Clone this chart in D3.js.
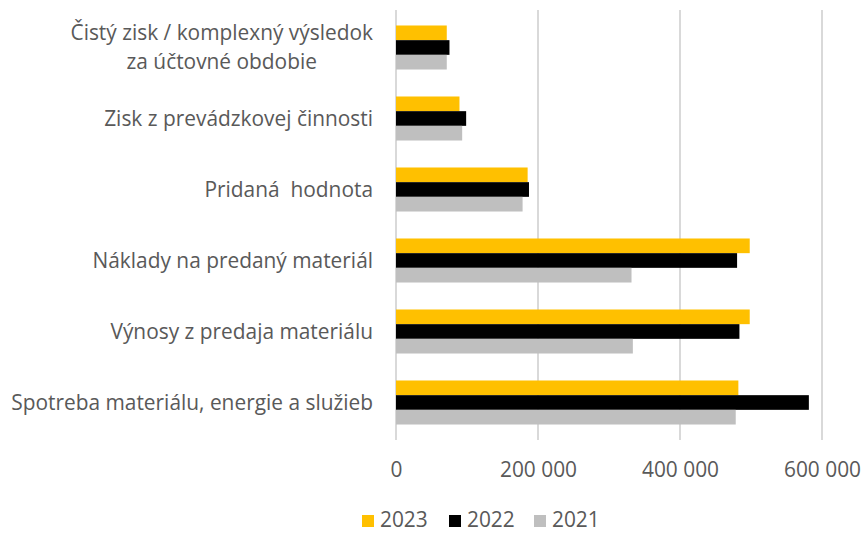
<!DOCTYPE html>
<html>
<head>
<meta charset="utf-8">
<script src="https://cdn.jsdelivr.net/npm/d3@7"></script>
<style>
  body { margin: 0; background: #fff; }
  text { font-family: "Open Sans", sans-serif; fill: #595959; white-space: pre; }
</style>
</head>
<body>
<div id="chart"></div>
<script>
const categories = [
  ["Čistý zisk / komplexný výsledok", "za účtovné obdobie"],
  ["Zisk z prevádzkovej činnosti"],
  ["Pridaná  hodnota"],
  ["Náklady na predaný materiál"],
  ["Výnosy z predaja materiálu"],
  ["Spotreba materiálu, energie a služieb"]
];
const series = ["2023", "2022", "2021"];
const values2023 = [71500, 89400, 185400, 498200, 498200, 482200];
const values2022 = [75300, 98800, 187300, 480400, 483700, 581500];
const values2021 = [71500, 93200, 178300, 331700, 333600, 478500];
const xTicks = [0, 200000, 400000, 600000];
const colors = ["#FFC000", "#000000", "#BFBFBF"];

const width = 863, height = 533;
const plotLeft = 396, plotRight = 822, plotTop = 12, plotBottom = 438;
const labelRight = 373;

const svg = d3.select("#chart").append("svg")
  .attr("width", width).attr("height", height);

// fit font size so the longest label spans the same width as in the original
const probe = svg.append("text").attr("font-size", 18).text(categories[5][0]);
const fs = 18 * 362 / probe.node().getComputedTextLength();
probe.remove();

const catKeys = categories.map((c, i) => i);
const x = d3.scaleLinear().domain([0, 600000]).range([plotLeft, plotRight]);
const y = d3.scaleBand().domain(catKeys).range([plotTop, plotBottom])
  .paddingInner(0.38).paddingOuter(0.19);
const ySub = d3.scaleBand().domain(series).range([0, y.bandwidth()]);

const table = catKeys.map(i => ({
  cat: i,
  vals: [values2023[i], values2022[i], values2021[i]]
}));

// gridlines
svg.append("g").selectAll("line").data(xTicks).enter().append("line")
  .attr("x1", d => x(d)).attr("x2", d => x(d))
  .attr("y1", plotTop - 2).attr("y2", plotBottom + 2)
  .attr("stroke", "#d9d9d9").attr("stroke-width", 2);

// bars
const groups = svg.append("g").selectAll("g").data(table).enter().append("g")
  .attr("transform", d => "translate(0," + y(d.cat) + ")");
groups.selectAll("rect")
  .data(d => d.vals.map((v, j) => ({ key: series[j], v, c: colors[j] })))
  .enter().append("rect")
  .attr("x", x(0)).attr("y", d => ySub(d.key))
  .attr("width", d => x(d.v) - x(0)).attr("height", ySub.bandwidth())
  .attr("fill", d => d.c);

// x axis labels
const xAxis = svg.append("g").attr("transform", "translate(0," + (plotBottom + 32) + ")")
  .call(d3.axisBottom(x).tickValues(xTicks).tickSize(0)
    .tickFormat(d => d3.format(",")(d).replace(/,/g, " ")));
xAxis.select(".domain").remove();
xAxis.selectAll("text").attr("font-size", fs).attr("dy", "0.35em").attr("y", 0)
  .style("font-family", "'Open Sans', sans-serif").attr("fill", "#595959");

// category labels
const labels = svg.append("g").selectAll("text").data(table).enter().append("text")
  .attr("font-size", fs)
  .attr("y", d => y(d.cat) + y.bandwidth() / 2);
labels.each(function(d) {
  const lines = categories[d.cat];
  const t = d3.select(this);
  if (lines.length === 1) {
    t.attr("x", labelRight).attr("text-anchor", "end").attr("dy", "0.35em").text(lines[0]);
    return;
  }
  // multi-line: centred block, right edge of widest line at labelRight
  const tmp = svg.append("text").attr("font-size", fs).text(lines[0]);
  const w = tmp.node().getComputedTextLength();
  tmp.remove();
  const cx = labelRight - w / 2;
  t.attr("text-anchor", "middle");
  lines.forEach((ln, k) => {
    t.append("tspan").attr("x", cx)
      .attr("dy", k === 0 ? (0.35 * fs - 14.5) : 29)
      .text(ln);
  });
});

// legend
const legend = svg.append("g").attr("transform", "translate(362,520)");
const lx = [0, 87, 172];
series.forEach((s, j) => {
  const g = legend.append("g").attr("transform", "translate(" + lx[j] + ",0)");
  g.append("rect").attr("x", 0).attr("y", -5).attr("width", 12).attr("height", 12)
    .attr("fill", colors[j]);
  g.append("text").attr("x", 18).attr("dy", "0.35em").attr("font-size", fs).text(s);
});
</script>
</body>
</html>
